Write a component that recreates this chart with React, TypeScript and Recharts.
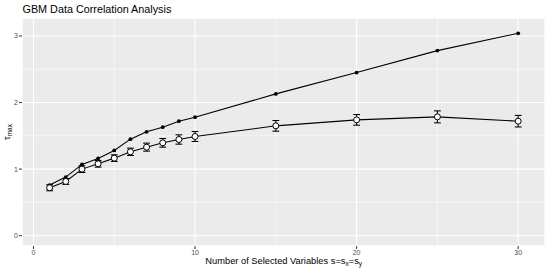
import {
  CartesianGrid,
  ComposedChart,
  ErrorBar,
  Line,
  XAxis,
  YAxis,
} from "recharts";

// number of selected variables s
const sizes = [1, 2, 3, 4, 5, 6, 7, 8, 9, 10, 15, 20, 25, 30];
// filled dots: max correlation on the full data
const tauFull = [0.76, 0.88, 1.07, 1.16, 1.28, 1.45, 1.56, 1.63, 1.72, 1.78, 2.13, 2.45, 2.78, 3.04];
// open circles: mean over resamples, with +/- error
const tauMean = [0.72, 0.815, 1.0, 1.08, 1.165, 1.26, 1.33, 1.395, 1.445, 1.49, 1.65, 1.74, 1.785, 1.72];
const tauErr = [0.045, 0.045, 0.05, 0.05, 0.05, 0.055, 0.06, 0.065, 0.07, 0.075, 0.08, 0.08, 0.09, 0.087];

const xTicks = [0, 10, 20, 30];
const xMinor = [5, 15, 25];
const yTicks = [0, 1, 2, 3];
const yMinor = [0.5, 1.5, 2.5];

const data = sizes.map((s, i) => ({
  s,
  full: tauFull[i],
  mean: tauMean[i],
  err: tauErr[i],
}));

const FONT = "'Liberation Sans', Arial, Helvetica, sans-serif";
const X_DOMAIN: [number, number] = [-0.71, 31.66];
const Y_DOMAIN: [number, number] = [-0.155, 3.27];

export default function App() {
  return (
    <div
      style={{
        position: "fixed",
        left: 0,
        top: 0,
        width: 550,
        height: 275,
        background: "#fff",
        fontFamily: FONT,
      }}
    >
      <ComposedChart
        width={550}
        height={275}
        data={data}
        margin={{ top: 18, right: 5, bottom: 0, left: 0 }}
      >
        <CartesianGrid
          xAxisId="minor"
          yAxisId="minor"
          fill="#EBEBEB"
          stroke="#FFFFFF"
          strokeWidth={0.55}
          strokeOpacity={1}
        />
        <CartesianGrid stroke="#FFFFFF" strokeWidth={1.07} />
        <XAxis
          xAxisId="minor"
          dataKey="s"
          type="number"
          domain={X_DOMAIN}
          ticks={xMinor}
          allowDataOverflow
          hide
        />
        <YAxis
          yAxisId="minor"
          type="number"
          domain={Y_DOMAIN}
          ticks={yMinor}
          allowDataOverflow
          hide
        />
        <XAxis
          dataKey="s"
          type="number"
          domain={X_DOMAIN}
          ticks={xTicks}
          allowDataOverflow
          axisLine={false}
          tickLine={{ stroke: "#333333", strokeWidth: 1 }}
          tickSize={3}
          tickMargin={1}
          height={29}
          tick={{ fill: "#4D4D4D", fontSize: 7, fontFamily: FONT }}
        />
        <YAxis
          type="number"
          domain={Y_DOMAIN}
          ticks={yTicks}
          allowDataOverflow
          axisLine={false}
          tickLine={{ stroke: "#333333", strokeWidth: 1 }}
          tickSize={3}
          tickMargin={1}
          width={22}
          tick={{ fill: "#4D4D4D", fontSize: 7, fontFamily: FONT }}
        />
        <Line
          dataKey="full"
          stroke="#000"
          strokeWidth={1.07}
          dot={{ r: 1.9, fill: "#000", stroke: "#000", strokeWidth: 0 }}
          activeDot={false}
          isAnimationActive={false}
        />
        <Line
          dataKey="mean"
          stroke="#000"
          strokeWidth={1.07}
          dot={{ r: 3, fill: "#fff", stroke: "#000", strokeWidth: 1 }}
          activeDot={false}
          isAnimationActive={false}
        >
          <ErrorBar
            dataKey="err"
            direction="y"
            width={3.4}
            stroke="#000"
            strokeWidth={1.07}
            isAnimationActive={false}
          />
        </Line>
      </ComposedChart>
      <svg
        width={550}
        height={275}
        style={{ position: "absolute", left: 0, top: 0, pointerEvents: "none" }}
      >
        <text x={22.5} y={13} fontSize={10.8} fill="#000" fontFamily={FONT}>
          GBM Data Correlation Analysis
        </text>
        <text
          x={283.7}
          y={264}
          fontSize={9.3}
          fill="#000"
          textAnchor="middle"
          fontFamily={FONT}
        >
          Number of Selected Variables s=s
          <tspan fontSize={6.5} dy={2}>x</tspan>
          <tspan dy={-2}>=s</tspan>
          <tspan fontSize={6.5} dy={2}>y</tspan>
        </text>
        <text
          transform="translate(10,132) rotate(-90)"
          fontSize={9.3}
          fill="#000"
          textAnchor="middle"
          fontFamily={FONT}
        >
          τ<tspan fontSize={6.5} dy={2}>max</tspan>
        </text>
      </svg>
    </div>
  );
}
